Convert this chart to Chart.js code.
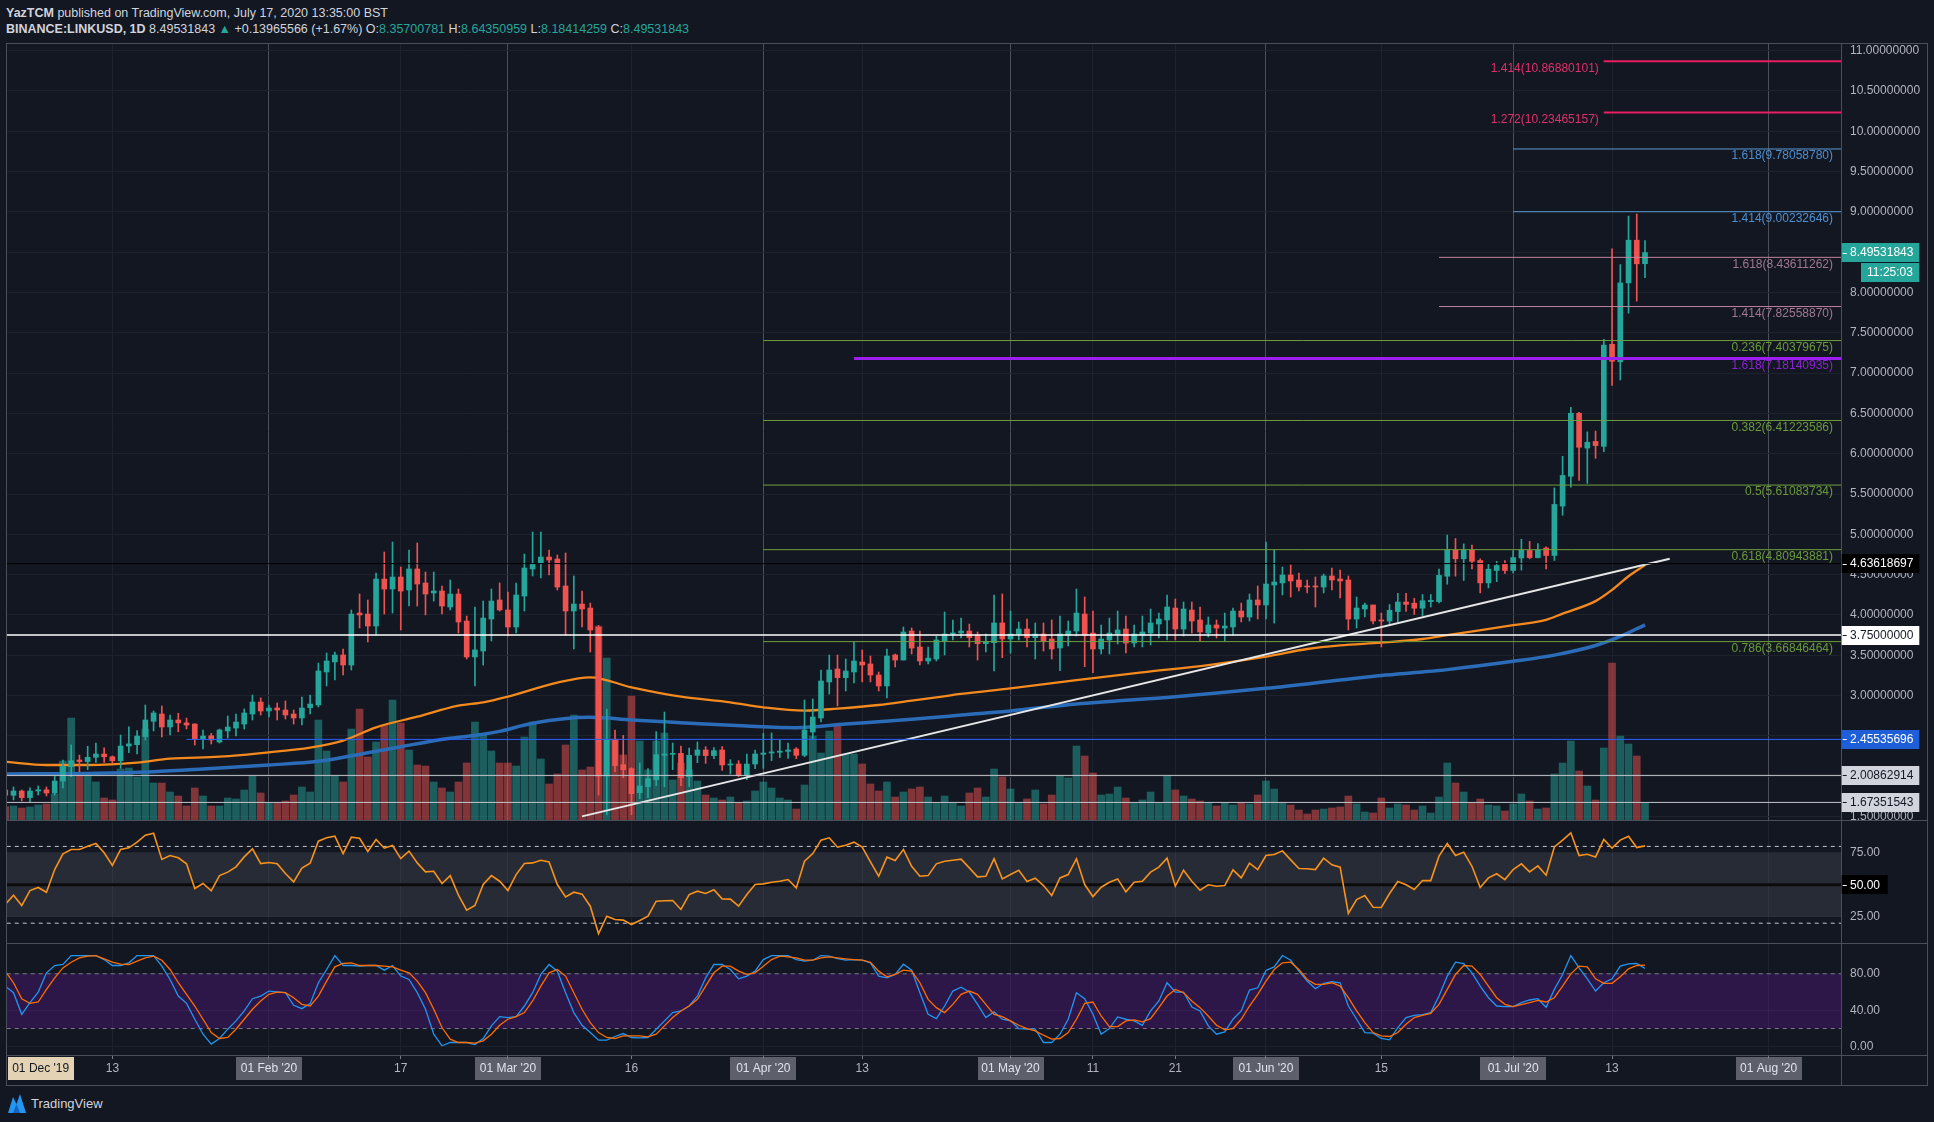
<!DOCTYPE html>
<html>
<head>
<meta charset="utf-8">
<title>LINKUSD 1D</title>
<script src="https://cdn.jsdelivr.net/npm/chart.js@4.4.1/dist/chart.umd.min.js"></script>
<style>
  html, body { margin: 0; padding: 0; background: #131722; }
  body { width: 1934px; height: 1122px; position: relative; overflow: hidden;
         font-family: "Liberation Sans", Arial, sans-serif; color: #d1d4dc; }
  canvas { position: absolute; left: 0; }
  #main { top: 43px; }
  #rsi { top: 820px; }
  #stoch { top: 943px; }
  .hdr { position: absolute; left: 6px; font-size: 12.5px; line-height: 16px; white-space: nowrap; }
  #hdr1 { top: 5px; }
  #hdr2 { top: 21px; }
  .up { color: #26a69a; }
  #frame { position: absolute; left: 6px; top: 43px; width: 1920px; height: 1041px;
           border: 1px solid #4a4e59; pointer-events: none; }
  .sep { position: absolute; left: 6px; width: 1922px; height: 1px; background: #4a4e59; }
  #axisTail { position: absolute; left: 1841px; top: 1055px; width: 1px; height: 31px; background: #4a4e59; }
  #logo { position: absolute; left: 7px; top: 1092px; height: 22px; display: flex; align-items: center;
          font-size: 13px; color: #d1d4dc; }
  #logo svg { margin-right: 4px; }
</style>
</head>
<body>
<div id="hdr1" class="hdr"><b>YazTCM</b> published on TradingView.com, July 17, 2020 13:35:00 BST</div>
<div id="hdr2" class="hdr"></div>

<canvas id="main" width="1934" height="777"></canvas>
<canvas id="rsi" width="1934" height="123"></canvas>
<canvas id="stoch" width="1934" height="142"></canvas>

<div id="frame"></div>
<div class="sep" style="top:820px"></div>
<div class="sep" style="top:943px"></div>
<div class="sep" style="top:1055px"></div>
<div id="axisTail"></div>
<div id="logo"><svg width="20" height="22" viewBox="0 0 20 22"><path d="M1 21 L6 5 L9.5 12 L13 2 L19 21 Z" fill="#2196f3"/><path d="M6 21 L9.5 12 L13 21 Z" fill="#1565c0"/></svg><span>TradingView</span></div>

<script>
// daily candles, Dec 31 2019 (day -1) .. Jul 17 2020 (day 198); day 0 = Jan 1 2020
const firstDay = -1;

const opens = [
  1.828, 1.762, 1.815, 1.733, 1.815, 1.83, 1.79, 1.939, 2.117, 2.20,
  2.18, 2.233, 2.274, 2.24, 2.19, 2.373, 2.39, 2.49, 2.68, 2.77,
  2.61, 2.696, 2.66, 2.646, 2.46, 2.50, 2.423, 2.56, 2.596, 2.646,
  2.77, 2.919, 2.808, 2.845, 2.82, 2.77, 2.721, 2.85, 2.882, 3.292,
  3.416, 3.503, 3.378, 4.023, 4.011, 3.862, 4.445, 4.321, 4.47, 4.309,
  4.57, 4.396, 4.272, 4.297, 4.098, 4.259, 3.924, 3.478, 3.552, 3.949,
  4.185, 4.061, 3.85, 4.234, 4.569, 4.644, 4.718, 4.693, 4.359, 4.048,
  4.135, 4.085, 3.846, 2.0, 2.448, 2.142, 2.092, 1.794, 1.868, 1.956,
  2.258, 2.27, 2.282, 1.993, 2.258, 2.324, 2.254, 2.324, 2.138, 2.15,
  2.005, 2.15, 2.27, 2.286, 2.295, 2.307, 2.336, 2.258, 2.547, 2.721,
  3.168, 3.329, 3.221, 3.292, 3.416, 3.391, 3.254, 3.118, 3.503, 3.44,
  3.80, 3.602, 3.428, 3.453, 3.676, 3.763, 3.776, 3.80, 3.75, 3.643,
  3.655, 3.90, 3.701, 3.763, 3.825, 3.718, 3.763, 3.701, 3.59, 3.75,
  3.80, 4.011, 3.775, 3.577, 3.689, 3.763, 3.825, 3.651, 3.75, 3.775,
  3.887, 3.937, 4.085, 3.825, 4.06, 3.937, 3.775, 3.875, 3.837, 3.85,
  4.048, 3.974, 4.185, 4.123, 4.371, 4.396, 4.495, 4.433, 4.359, 4.359,
  4.346, 4.483, 4.446, 4.433, 3.949, 4.073, 4.123, 3.937, 3.924, 4.042,
  4.16, 4.145, 4.083, 4.165, 4.165, 4.48, 4.804, 4.696, 4.804, 4.675,
  4.397, 4.551, 4.629, 4.551, 4.706, 4.799, 4.711, 4.83, 4.737, 5.35,
  5.72, 6.502, 6.07, 6.152, 6.091, 7.357, 7.141, 8.119, 8.649, 8.35700781
];
const highs = [
  1.85, 1.865, 1.828, 1.853, 1.877, 1.865, 2.001, 2.20, 2.386, 2.26,
  2.37, 2.41, 2.35, 2.25, 2.51, 2.61, 2.564, 2.882, 2.808, 2.87,
  2.758, 2.78, 2.72, 2.65, 2.57, 2.53, 2.584, 2.746, 2.77, 2.833,
  3.006, 2.97, 2.882, 2.907, 2.932, 2.82, 2.98, 3.006, 3.403, 3.527,
  3.54, 3.577, 4.061, 4.259, 4.185, 4.52, 4.78, 4.904, 4.594, 4.805,
  4.892, 4.532, 4.532, 4.359, 4.433, 4.321, 3.986, 4.098, 4.172, 4.321,
  4.396, 4.284, 4.396, 4.755, 5.028, 5.028, 4.805, 4.743, 4.768, 4.483,
  4.297, 4.147, 3.87, 2.83, 2.572, 2.505, 2.105, 2.163, 2.092, 2.551,
  2.795, 2.41, 2.373, 2.348, 2.423, 2.365, 2.353, 2.365, 2.204, 2.192,
  2.274, 2.324, 2.53, 2.535, 2.452, 2.41, 2.353, 2.944, 2.957, 3.316,
  3.502, 3.502, 3.453, 3.664, 3.565, 3.49, 3.292, 3.577, 3.515, 3.85,
  3.838, 3.80, 3.602, 3.738, 4.036, 3.937, 3.961, 3.887, 3.788, 3.763,
  4.247, 4.26, 4.048, 3.912, 3.949, 3.90, 3.90, 3.937, 3.986, 3.924,
  4.321, 4.222, 4.048, 3.875, 3.961, 4.048, 3.986, 3.875, 3.986, 4.073,
  4.023, 4.247, 4.197, 4.16, 4.16, 4.098, 3.974, 3.937, 4.023, 4.085,
  4.147, 4.259, 4.359, 4.905, 4.805, 4.594, 4.619, 4.52, 4.433, 4.47,
  4.507, 4.582, 4.557, 4.483, 4.222, 4.147, 4.123, 4.023, 4.129, 4.268,
  4.268, 4.207, 4.253, 4.253, 4.567, 4.99, 4.948, 4.881, 4.866, 4.696,
  4.629, 4.665, 4.675, 4.799, 4.938, 4.912, 4.886, 4.845, 5.576, 5.967,
  6.575, 6.513, 6.271, 6.281, 7.419, 8.541, 8.346, 8.948, 8.974, 8.64350959
];
const lows = [
  1.72, 1.704, 1.691, 1.679, 1.766, 1.753, 1.766, 1.853, 1.993, 2.055,
  2.08, 2.17, 2.17, 2.16, 2.096, 2.29, 2.274, 2.448, 2.56, 2.485,
  2.51, 2.55, 2.584, 2.386, 2.336, 2.398, 2.41, 2.473, 2.497, 2.584,
  2.696, 2.758, 2.733, 2.696, 2.708, 2.646, 2.634, 2.77, 2.857, 3.118,
  3.192, 3.254, 3.316, 3.838, 3.664, 3.751, 4.011, 4.023, 3.813, 4.11,
  4.11, 4.0, 4.172, 4.011, 4.061, 3.775, 3.453, 3.118, 3.378, 3.676,
  4.048, 3.738, 3.776, 4.048, 4.483, 4.458, 4.495, 4.309, 3.75, 3.577,
  3.85, 3.54, 1.765, 1.52, 2.055, 1.98, 1.521, 1.72, 1.732, 1.881,
  1.868, 2.08, 1.881, 1.868, 2.166, 2.158, 2.216, 2.071, 2.026, 1.993,
  1.956, 2.092, 2.096, 2.192, 2.229, 2.22, 2.216, 2.241, 2.456, 2.671,
  3.018, 2.87, 3.056, 3.155, 3.168, 3.168, 3.056, 2.969, 3.354, 3.44,
  3.515, 3.378, 3.391, 3.428, 3.503, 3.689, 3.713, 3.602, 3.44, 3.54,
  3.304, 3.47, 3.527, 3.689, 3.602, 3.453, 3.552, 3.453, 3.308, 3.614,
  3.738, 3.358, 3.283, 3.515, 3.515, 3.639, 3.527, 3.602, 3.602, 3.627,
  3.713, 3.689, 3.689, 3.738, 3.775, 3.676, 3.726, 3.713, 3.676, 3.75,
  3.912, 3.924, 3.949, 3.949, 3.899, 4.247, 4.222, 4.297, 4.272, 4.098,
  4.272, 4.309, 4.21, 3.813, 3.837, 3.974, 3.887, 3.602, 3.888, 3.913,
  4.042, 4.006, 3.99, 4.098, 4.15, 4.381, 4.48, 4.428, 4.572, 4.273,
  4.335, 4.412, 4.515, 4.52, 4.556, 4.696, 4.706, 4.572, 4.675, 5.236,
  5.586, 5.669, 5.632, 5.942, 6.024, 6.848, 6.915, 7.743, 7.893, 8.18414259
];
const closes = [
  1.762, 1.815, 1.733, 1.815, 1.83, 1.79, 1.939, 2.117, 2.191, 2.18,
  2.233, 2.274, 2.24, 2.19, 2.373, 2.40, 2.497, 2.696, 2.783, 2.609,
  2.696, 2.66, 2.634, 2.46, 2.497, 2.448, 2.572, 2.609, 2.671, 2.783,
  2.919, 2.808, 2.845, 2.82, 2.758, 2.721, 2.845, 2.894, 3.304, 3.428,
  3.503, 3.378, 4.011, 3.999, 3.862, 4.445, 4.321, 4.47, 4.296, 4.57,
  4.383, 4.259, 4.297, 4.11, 4.259, 3.912, 3.478, 3.565, 3.961, 4.172,
  4.061, 3.85, 4.247, 4.582, 4.632, 4.718, 4.681, 4.346, 4.048, 4.135,
  4.073, 3.813, 2.0, 2.448, 2.13, 2.08, 1.782, 1.877, 1.968, 2.266,
  2.274, 2.28, 1.98, 2.258, 2.324, 2.254, 2.316, 2.138, 2.15, 2.005,
  2.15, 2.274, 2.286, 2.30, 2.31, 2.324, 2.258, 2.572, 2.733, 3.18,
  3.316, 3.221, 3.304, 3.428, 3.378, 3.254, 3.118, 3.49, 3.44, 3.788,
  3.589, 3.428, 3.465, 3.689, 3.763, 3.776, 3.80, 3.718, 3.643, 3.668,
  3.90, 3.701, 3.763, 3.825, 3.718, 3.763, 3.676, 3.577, 3.763, 3.80,
  4.023, 3.75, 3.577, 3.701, 3.775, 3.813, 3.651, 3.763, 3.788, 3.90,
  3.949, 4.098, 3.825, 4.073, 3.924, 3.788, 3.875, 3.837, 3.862, 4.048,
  3.974, 4.185, 4.123, 4.383, 4.408, 4.495, 4.421, 4.346, 4.346, 4.346,
  4.483, 4.433, 4.421, 3.949, 4.085, 4.123, 3.924, 3.924, 4.057, 4.16,
  4.13, 4.083, 4.176, 4.181, 4.49, 4.804, 4.696, 4.804, 4.665, 4.397,
  4.567, 4.613, 4.551, 4.711, 4.804, 4.711, 4.804, 4.737, 5.37, 5.73,
  6.502, 6.08, 6.142, 6.101, 7.347, 7.146, 8.119, 8.649, 8.35566277, 8.49531843
];
// volume, millions of LINK
const volumes = [
  1.33, 1.4, 1.2, 1.3, 1.5, 1.6, 2.6, 5.9, 10.2, 4.7,
  4.5, 3.8, 2.2, 2.0, 5.1, 5.2, 4.3, 9.1, 3.7, 3.7,
  2.8, 2.4, 1.4, 3.2, 2.4, 1.4, 1.4, 2.2, 2.1, 3.0,
  4.4, 2.7, 1.7, 1.7, 1.9, 2.5, 3.3, 2.8, 10.0, 6.9,
  4.4, 3.8, 9.1, 11.1, 6.3, 7.8, 9.5, 12.0, 9.7, 7.0,
  5.5, 5.4, 3.8, 3.2, 2.8, 3.8, 5.7, 9.8, 8.5, 6.9,
  5.7, 5.7, 5.4, 8.3, 9.8, 6.1, 3.6, 4.6, 7.5, 10.5,
  5.0, 5.3, 19.4, 16.2, 8.1, 6.5, 12.4, 7.9, 5.0, 7.9,
  8.7, 4.0, 5.7, 5.0, 3.9, 2.5, 2.2, 2.0, 2.3, 1.7,
  1.9, 2.9, 3.8, 3.2, 2.2, 2.0, 1.1, 3.5, 8.4, 6.7,
  8.9, 9.4, 6.6, 6.6, 5.6, 3.6, 2.9, 3.8, 2.3, 2.8,
  3.1, 3.3, 2.3, 1.7, 2.4, 1.7, 1.4, 2.7, 3.2, 2.3,
  5.1, 4.3, 3.1, 1.7, 2.1, 3.0, 1.6, 2.5, 4.4, 4.2,
  7.4, 6.4, 4.7, 2.5, 2.6, 3.3, 2.2, 1.7, 2.0, 2.8,
  1.7, 4.4, 3.0, 2.4, 2.1, 1.9, 1.7, 1.4, 1.7, 1.5,
  1.7, 1.6, 2.5, 3.9, 3.1, 1.7, 1.5, 1.0, 0.6, 1.0,
  1.1, 1.2, 1.3, 2.4, 1.6, 0.8, 0.7, 2.2, 1.2, 1.6,
  1.5, 1.0, 1.4, 0.7, 2.3, 5.7, 3.7, 2.8, 1.7, 2.1,
  1.5, 1.4, 0.9, 1.6, 2.6, 1.9, 1.1, 1.2, 4.6, 5.7,
  7.9, 4.9, 3.4, 2.0, 7.2, 15.7, 8.4, 7.6, 6.4, 1.7
];
const rsi = [
  34.6, 41.9, 33.8, 45.5, 47.9, 44.2, 61.9, 74.2, 77.6, 77.6,
  80.2, 82.3, 75.0, 65.1, 77.6, 78.9, 83.3, 88.8, 90.3, 69.8,
  72.9, 71.1, 66.4, 47.1, 51.0, 45.3, 57.2, 59.9, 64.0, 71.8,
  78.1, 66.6, 67.4, 66.4, 58.8, 52.3, 63.0, 66.9, 84.1, 86.7,
  88.0, 74.4, 87.2, 86.4, 76.0, 85.4, 78.6, 80.7, 70.5, 76.3,
  67.1, 60.1, 60.6, 51.0, 57.2, 41.9, 30.2, 33.8, 50.2, 57.2,
  52.8, 45.5, 58.0, 66.6, 67.1, 69.2, 67.9, 50.2, 40.6, 44.2,
  42.7, 33.3, 11.7, 25.5, 22.9, 22.4, 19.0, 22.1, 25.5, 37.2,
  37.5, 37.7, 30.7, 42.4, 45.0, 43.2, 46.1, 39.0, 38.8, 33.3,
  42.4, 50.2, 50.7, 52.0, 52.8, 54.1, 47.6, 68.4, 74.4, 84.9,
  86.7, 79.4, 80.9, 83.3, 79.4, 67.9, 56.7, 71.6, 69.0, 77.6,
  64.5, 56.7, 57.2, 66.4, 68.4, 69.2, 70.0, 63.2, 56.2, 56.7,
  70.3, 54.6, 58.0, 61.4, 52.6, 55.2, 49.4, 41.6, 55.4, 58.0,
  70.3, 50.2, 40.8, 48.1, 52.0, 54.6, 44.5, 52.0, 52.8, 59.9,
  63.8, 70.8, 48.9, 61.4, 52.8, 45.8, 50.0, 48.9, 49.4, 61.7,
  55.4, 66.9, 61.9, 72.9, 73.7, 76.5, 69.5, 62.7, 62.5, 61.9,
  70.8, 65.6, 63.8, 27.6, 38.5, 41.6, 32.5, 32.3, 43.2, 52.6,
  50.0, 46.3, 53.3, 53.3, 72.4, 82.3, 72.9, 75.5, 64.5, 47.9,
  55.4, 58.6, 54.1, 61.9, 66.4, 60.1, 64.8, 57.5, 79.6, 84.9,
  90.6, 72.9, 73.9, 71.8, 85.4, 78.6, 84.9, 88.0, 79.1, 80.4
];
const stochK = [
  66.5, 59.3, 35.6, 48.4, 60.0, 81.1, 89.1, 90.2, 100, 100,
  100, 100, 95.6, 89.1, 89.1, 92.0, 100, 100, 100, 88.4,
  73.8, 55.6, 47.6, 30.2, 13.8, 2.9, 9.1, 19.3, 28.4, 39.3,
  52.7, 55.6, 61.1, 60.3, 59.3, 45.5, 41.8, 47.3, 70.2, 84.7,
  100, 89.1, 89.1, 88.4, 89.1, 89.1, 84.0, 89.1, 77.5, 73.8,
  59.3, 41.1, 13.8, 1.1, 4.7, 4.7, 4.7, 2.5, 9.1, 22.9,
  33.1, 32.0, 33.1, 44.7, 59.3, 79.3, 90.2, 82.9, 59.3, 37.5,
  23.6, 15.6, 7.3, 7.3, 11.3, 14.5, 10.2, 9.8, 10.2, 19.3,
  28.4, 37.5, 39.3, 44.7, 55.6, 75.6, 90.2, 90.2, 84.7, 74.5,
  77.5, 82.9, 95.6, 100, 100, 100, 95.6, 93.8, 94.9, 100,
  99.3, 96.7, 94.9, 95.6, 94.9, 92.0, 77.5, 75.6, 79.3, 90.5,
  84.0, 59.3, 35.6, 30.9, 44.7, 61.1, 65.4, 60.0, 46.5, 32.0,
  38.2, 30.2, 28.4, 20.0, 19.3, 19.3, 4.7, 4.7, 13.8, 30.2,
  59.3, 52.7, 35.6, 13.8, 20.0, 32.7, 30.2, 28.4, 23.6, 39.3,
  50.2, 70.2, 60.0, 60.0, 43.6, 39.3, 22.9, 13.8, 16.4, 30.2,
  39.3, 62.2, 64.7, 83.6, 87.6, 100, 94.9, 82.9, 72.0, 63.6,
  69.4, 71.3, 70.2, 44.7, 30.2, 15.6, 14.9, 9.1, 7.6, 21.1,
  32.0, 34.5, 35.3, 37.5, 55.6, 77.5, 92.7, 91.3, 81.1, 66.5,
  53.8, 44.7, 44.0, 44.0, 48.4, 51.3, 52.7, 43.3, 62.9, 79.3,
  100, 86.5, 74.5, 61.1, 70.2, 74.5, 88.4, 90.9, 91.3, 85.8
];
const stochD = [
  82.9, 70.2, 52.7, 47.6, 49.1, 62.9, 75.6, 86.5, 92.7, 97.4,
  99.3, 100, 96.4, 92.7, 90.5, 90.2, 93.8, 97.4, 99.3, 94.9,
  84.7, 70.2, 57.5, 44.7, 30.2, 15.6, 9.1, 10.2, 19.3, 30.2,
  41.1, 50.2, 57.5, 60.0, 59.3, 53.8, 46.5, 44.7, 55.6, 72.0,
  87.6, 91.3, 92.0, 89.1, 89.1, 89.1, 88.4, 87.6, 84.0, 81.1,
  72.0, 59.3, 41.1, 21.1, 8.4, 4.7, 4.7, 4.0, 6.5, 13.8,
  23.6, 30.2, 33.1, 37.5, 50.2, 66.5, 81.1, 84.7, 77.5, 59.3,
  41.1, 26.5, 15.6, 10.2, 9.1, 12.0, 12.0, 12.0, 10.9, 13.8,
  22.9, 32.0, 39.3, 44.7, 52.0, 66.5, 81.1, 88.4, 88.4, 82.9,
  79.3, 81.1, 88.4, 95.6, 99.3, 98.5, 97.4, 94.9, 94.9, 97.4,
  98.5, 97.4, 96.4, 95.6, 94.9, 92.7, 82.9, 76.7, 79.3, 84.0,
  82.9, 70.2, 52.0, 42.9, 37.5, 46.5, 57.5, 61.1, 57.5, 46.5,
  35.6, 33.1, 28.4, 23.6, 20.0, 17.5, 12.7, 8.4, 9.1, 15.6,
  30.2, 47.6, 49.1, 33.8, 22.2, 22.2, 28.4, 29.5, 27.3, 30.9,
  42.9, 55.6, 62.9, 59.3, 50.2, 42.9, 33.8, 23.6, 18.5, 20.0,
  30.2, 44.7, 57.5, 72.0, 84.7, 92.0, 92.7, 84.7, 73.8, 68.4,
  68.4, 70.2, 66.5, 53.8, 39.3, 26.5, 15.6, 12.0, 11.3, 15.6,
  24.7, 32.0, 34.5, 36.7, 46.5, 62.9, 79.3, 89.1, 88.4, 79.3,
  66.5, 53.8, 46.5, 44.0, 46.2, 48.4, 50.9, 49.1, 53.8, 66.5,
  80.0, 88.4, 87.6, 74.5, 69.5, 69.5, 76.7, 85.5, 89.1, 89.5
];

// moving averages, sampled along the drawn lines
const maFastDays = [-1, 4, 9, 15, 19, 25, 31, 36, 40, 44, 49, 54, 57, 60, 66, 70, 75, 81, 87, 91,
  96, 100, 105, 109, 112, 115, 121, 129, 137, 145, 152, 157, 161, 166, 171, 174, 182, 186, 188, 192, 194, 196, 198];
const maFastVals = [2.179, 2.138, 2.138, 2.167, 2.216, 2.241, 2.295, 2.353, 2.44, 2.605, 2.737, 2.874, 2.915, 2.985,
  3.159, 3.225, 3.101, 2.985, 2.915, 2.853, 2.812, 2.837, 2.882, 2.936, 2.977, 3.019, 3.089, 3.192, 3.287, 3.378,
  3.482, 3.577, 3.622, 3.656, 3.701, 3.749, 3.872, 3.939, 4.016, 4.171, 4.31, 4.48, 4.618];
const maSlowDays = [-1, 10, 17, 23, 31, 37, 43, 47, 53, 57, 59, 63, 70, 75, 81, 89, 95, 101, 109, 112, 115,
  121, 129, 141, 152, 161, 166, 171, 174, 182, 187, 192, 195, 198];
const maSlowVals = [2.026, 2.034, 2.055, 2.088, 2.138, 2.183, 2.29, 2.365, 2.469, 2.518, 2.555, 2.655, 2.729, 2.696,
  2.663, 2.621, 2.601, 2.646, 2.704, 2.729, 2.758, 2.808, 2.895, 2.985, 3.089, 3.192, 3.249, 3.292, 3.321, 3.424,
  3.501, 3.62, 3.733, 3.877];

// drawings
const trendDays = [69, 201];
const trendVals = [1.5, 4.696];
const fibRatios = ['1.414', '1.272', '1.618', '1.414', '1.618', '1.414', '0.236', '1.618', '0.382', '0.5', '0.618', '0.786'];
const fibPrices = [10.86880101, 10.23465157, 9.78058780, 9.00232646, 8.43611262, 7.82558870,
  7.40379675, 7.18140935, 6.41223586, 5.61083734, 4.80943881, 3.66846464];
const fibStartDays = [193, 193, 182, 182, 173, 173, 91, 102, 91, 91, 91, 91];
const fibGroups = ['ext2', 'ext2', 'ext1', 'ext1', 'ext0', 'ext0', 'retr', 'ext3', 'retr', 'retr', 'retr', 'retr'];
const markPrices = [4.63618697, 3.75, 2.45535696, 2.00862914, 1.67351543];
const markStartDays = [-1, -1, 21, -1, -1];
const countdown = '11:25:03';

// axes
const priceTicks = [1.5, 2, 2.5, 3, 3.5, 4, 4.5, 5, 5.5, 6, 6.5, 7, 7.5, 8, 8.5, 9, 9.5, 10, 10.5, 11];
const rsiTicks = [25, 50, 75];
const rsiLevels = [80, 50, 20];
const rsiBand = [75, 25];
const stochTicks = [0, 40, 80];
const stochLevels = [80, 20];
const timeTickDays = [3.3, 12, 31, 47, 60, 75, 91, 103, 121, 131, 141, 152, 166, 182, 194, 213];
const timeTickLabels = ["01 Dec '19", '13', "01 Feb '20", '17', "01 Mar '20", '16', "01 Apr '20", '13',
  "01 May '20", '11', '21', "01 Jun '20", '15', "01 Jul '20", '13', "01 Aug '20"];

// ---------------------------------------------------------------
const FONT = '"Liberation Sans", Arial, sans-serif';
Chart.defaults.font.family = FONT;
Chart.defaults.font.size = 12;
Chart.defaults.color = '#b2b5be';

const dayMin = -0.79, dayMax = 221.79;
const axisW = 93;
const UP = '#26a69a', DOWN = '#ef5350';

const fibStyle = {
  ext2: { line: '#e91e63', text: '#e0306a', width: 2, labelLeft: true },
  ext1: { line: '#5b9bd5', text: '#4f8fd0', width: 1 },
  ext0: { line: '#c4829f', text: '#a07890', width: 1 },
  retr: { line: '#6f9e3d', text: '#6b9a3b', width: 1 },
  ext3: { line: '#9c1ef0', text: '#8b22cf', width: 3 }
};
const markStyle = [
  { line: '#000000', width: 1, bg: '#000000', fg: '#ffffff' },
  { line: '#ffffff', width: 1.5, bg: '#ffffff', fg: '#131722' },
  { line: '#2962ff', width: 1, bg: '#1e5fd9', fg: '#ffffff' },
  { line: '#c3c5cb', width: 1, bg: '#d1d4dc', fg: '#131722' },
  { line: '#c3c5cb', width: 1, bg: '#d1d4dc', fg: '#131722' }
];

const dayOf = i => firstDay + i;
const isUp = closes.map((c, i) => c >= opens[i]);
const candleColors = isUp.map(u => u ? UP : DOWN);
const volColors = isUp.map(u => u ? 'rgba(38,166,154,0.5)' : 'rgba(239,83,80,0.5)');
const isBoxed = i => timeTickLabels[i].indexOf("'") >= 0;

const hLine = (y, from, color, width, dash) => ({
  type: 'line', data: [{ x: from, y: y }, { x: dayMax + 1, y: y }],
  borderColor: color, borderWidth: width, borderDash: dash || [], pointRadius: 0, fill: false, order: 0
});

const noPad = a => { a.paddingTop = 0; a.paddingBottom = 0; a.paddingLeft = 0; a.paddingRight = 0; };

const xAxisHidden = (gridColor) => ({
  type: 'linear', min: dayMin, max: dayMax, offset: false,
  afterBuildTicks: a => { a.ticks = timeTickDays.map(v => ({ value: v })); },
  afterFit: a => { a.height = 0; noPad(a); },
  ticks: { display: false },
  border: { display: false },
  grid: { offset: false, drawTicks: false, color: gridColor }
});

const yAxisRight = (min, max, ticks, digits) => ({
  type: 'linear', position: 'right', min: min, max: max,
  afterBuildTicks: a => { a.ticks = ticks.map(v => ({ value: v })); },
  afterFit: a => { a.width = axisW; noPad(a); },
  ticks: { padding: 9, color: '#b2b5be', autoSkip: false, callback: v => Number(v).toFixed(digits) },
  border: { display: true, color: '#4a4e59' },
  grid: { drawTicks: false, color: '#1e222d' }
});

const baseOptions = {
  responsive: false, maintainAspectRatio: false, animation: false, events: [],
  layout: { padding: { left: 7, right: 0, top: 0, bottom: 0 }, autoPadding: false },
  plugins: { legend: { display: false }, tooltip: { enabled: false } }
};

// keep a scale mapping two reference values onto their pixel rows/columns
function pinScale(chart, id, v1, px1, v2, px2) {
  const a = chart.chartArea;
  const k = (px2 - px1) / (v2 - v1);
  const s = chart.options.scales[id];
  const lo = id === 'x' ? a.left : a.bottom;
  const hi = id === 'x' ? a.right : a.top;
  s.min = v1 + (lo - px1) / k;
  s.max = v1 + (hi - px1) / k;
}

function drawTag(ctx, area, yc, bg, fg, text, right) {
  const x0 = area.right + 0.7;
  ctx.fillStyle = bg;
  ctx.fillRect(x0, Math.round(yc - 9.5), right - x0, 19);
  ctx.fillStyle = fg;
  ctx.fillRect(x0 + 1, Math.round(yc), 4, 1);
  ctx.textAlign = 'left';
  ctx.textBaseline = 'middle';
  ctx.fillText(text, 1850, yc + 0.5);
}

// ---------------- main pane ----------------
const mainSets = [];
mainSets.push({
  type: 'bar', label: 'Volume', yAxisID: 'vol',
  data: volumes.map((v, i) => ({ x: dayOf(i), y: v })),
  backgroundColor: volColors, barThickness: 7, grouped: false, borderWidth: 0, order: 10
});
mainSets.push({
  type: 'line', label: 'MA slow',
  data: maSlowDays.map((d, i) => ({ x: d, y: maSlowVals[i] })),
  borderColor: '#2b6cb8', borderWidth: 3.5, pointRadius: 0, cubicInterpolationMode: 'monotone', fill: false, order: 6
});
mainSets.push({
  type: 'line', label: 'MA fast',
  data: maFastDays.map((d, i) => ({ x: d, y: maFastVals[i] })),
  borderColor: '#f4891e', borderWidth: 2.3, pointRadius: 0, cubicInterpolationMode: 'monotone', fill: false, order: 5
});
mainSets.push({
  type: 'bar', label: 'Wicks',
  data: lows.map((l, i) => ({ x: dayOf(i), y: [l, highs[i]] })),
  backgroundColor: candleColors, barThickness: 1, grouped: false, borderWidth: 0, order: 2
});
mainSets.push({
  type: 'bar', label: 'Bodies',
  data: opens.map((o, i) => ({ x: dayOf(i), y: [o, closes[i]] })),
  backgroundColor: candleColors, barThickness: 5, minBarLength: 1, grouped: false, borderWidth: 0, order: 1
});
fibPrices.forEach((p, i) => {
  const st = fibStyle[fibGroups[i]];
  mainSets.push(hLine(p, fibStartDays[i], st.line, st.width));
});
markPrices.forEach((p, i) => {
  mainSets.push(hLine(p, markStartDays[i], markStyle[i].line, markStyle[i].width));
});
mainSets.push({
  type: 'line', label: 'Trend',
  data: trendDays.map((d, i) => ({ x: d, y: trendVals[i] })),
  borderColor: '#e6e6e6', borderWidth: 2, pointRadius: 0, fill: false, order: 0
});

const mainLabels = {
  id: 'mainLabels',
  afterDatasetsDraw(chart) {
    const { ctx, chartArea, scales: { x, y } } = chart;
    ctx.save();
    ctx.font = '12px ' + FONT;
    ctx.textBaseline = 'middle';
    ctx.textAlign = 'right';
    fibPrices.forEach((p, i) => {
      const st = fibStyle[fibGroups[i]];
      const py = y.getPixelForValue(p);
      const text = fibRatios[i] + '(' + p.toFixed(8) + ')';
      ctx.fillStyle = st.text;
      if (st.labelLeft) ctx.fillText(text, x.getPixelForValue(fibStartDays[i]) - 5, py + 7);
      else ctx.fillText(text, chartArea.right - 8, py + 7);
    });
    ctx.restore();
  },
  afterDraw(chart) {
    const { ctx, chartArea, scales: { y } } = chart;
    ctx.save();
    ctx.font = '12px ' + FONT;
    markPrices.forEach((p, i) => {
      drawTag(ctx, chartArea, y.getPixelForValue(p), markStyle[i].bg, markStyle[i].fg, p.toFixed(8), 1919.3);
    });
    const last = closes.length - 1;
    const ly = y.getPixelForValue(closes[last]);
    drawTag(ctx, chartArea, ly, UP, '#ffffff', closes[last].toFixed(8), 1919.3);
    ctx.fillStyle = UP;
    ctx.fillRect(1861, Math.round(ly + 10), 58.3, 19);
    ctx.fillStyle = '#ffffff';
    ctx.textAlign = 'center';
    ctx.fillText(countdown, 1890, Math.round(ly + 10) + 10);
    ctx.restore();
  }
};

const mainChart = new Chart(document.getElementById('main'), {
  type: 'bar',
  data: { datasets: mainSets },
  options: Object.assign({}, baseOptions, {
    scales: {
      x: xAxisHidden(c => c.index === 0 ? 'rgba(0,0,0,0)' : (isBoxed(c.index) ? '#4c4f5a' : '#1e222d')),
      y: yAxisRight(1.4555, 11.0955, priceTicks, 8),
      vol: { type: 'linear', display: false, min: 0, max: 77.7 }
    }
  }),
  plugins: [mainLabels]
});

// ---------------- RSI pane ----------------
const flat = v => [{ x: dayMin - 1, y: v }, { x: dayMax + 1, y: v }];
const rsiTag = {
  id: 'rsiTag',
  afterDraw(chart) {
    const { ctx, chartArea, scales: { y } } = chart;
    ctx.save();
    ctx.font = '12px ' + FONT;
    drawTag(ctx, chartArea, y.getPixelForValue(rsiLevels[1]), '#000000', '#ffffff', rsiLevels[1].toFixed(2), 1887.7);
    ctx.restore();
  }
};
const rsiChart = new Chart(document.getElementById('rsi'), {
  type: 'line',
  data: {
    datasets: [
      { data: flat(rsiBand[0]), fill: { value: rsiBand[1] }, backgroundColor: 'rgba(255,255,255,0.085)', borderWidth: 0, pointRadius: 0, order: 5 },
      { data: flat(rsiLevels[0]), borderColor: '#c3c5cb', borderDash: [4, 4], borderWidth: 1, pointRadius: 0, fill: false, order: 4 },
      { data: flat(rsiLevels[2]), borderColor: '#c3c5cb', borderDash: [4, 4], borderWidth: 1, pointRadius: 0, fill: false, order: 4 },
      { data: flat(rsiLevels[1]), borderColor: '#0c0c0c', borderWidth: 3, pointRadius: 0, fill: false, order: 3 },
      { data: rsi.map((v, i) => ({ x: dayOf(i), y: v })), borderColor: '#f7921c', borderWidth: 1.6, pointRadius: 0, fill: false, order: 1 }
    ]
  },
  options: Object.assign({}, baseOptions, {
    scales: {
      x: xAxisHidden(c => c.index === 0 ? 'rgba(0,0,0,0)' : '#1e222d'),
      y: yAxisRight(4.5, 100.6, rsiTicks, 2)
    }
  }),
  plugins: [rsiTag]
});

// ---------------- Stoch RSI pane + time axis ----------------
const timeBoxes = {
  id: 'timeBoxes',
  beforeDraw(chart) {
    const { ctx, chartArea, scales: { x } } = chart;
    ctx.save();
    timeTickDays.forEach((d, i) => {
      if (!isBoxed(i)) return;
      const cx = x.getPixelForValue(d);
      ctx.fillStyle = i === 0 ? '#e3d3b4' : '#5d606b';
      ctx.fillRect(Math.round(cx - 33), chartArea.bottom + 2, 66, 23);
    });
    ctx.restore();
  }
};
const stochChart = new Chart(document.getElementById('stoch'), {
  type: 'line',
  data: {
    datasets: [
      { data: flat(stochLevels[0]), fill: { value: stochLevels[1] }, backgroundColor: 'rgba(149,25,225,0.2)',
        borderColor: '#787b86', borderDash: [4, 4], borderWidth: 1, pointRadius: 0, order: 5 },
      { data: flat(stochLevels[1]), borderColor: '#787b86', borderDash: [4, 4], borderWidth: 1, pointRadius: 0, fill: false, order: 4 },
      { data: stochK.map((v, i) => ({ x: dayOf(i), y: v })), borderColor: '#2196f3', borderWidth: 1.3, pointRadius: 0, fill: false, order: 2 },
      { data: stochD.map((v, i) => ({ x: dayOf(i), y: v })), borderColor: '#ff6d00', borderWidth: 1.3, pointRadius: 0, fill: false, order: 1 }
    ]
  },
  options: Object.assign({}, baseOptions, {
    scales: {
      x: {
        type: 'linear', min: dayMin, max: dayMax, offset: false, position: 'bottom',
        afterBuildTicks: a => { a.ticks = timeTickDays.map(v => ({ value: v })); },
        afterFit: a => { a.height = 30; noPad(a); },
        ticks: {
          autoSkip: false, maxRotation: 0, padding: 2,
          callback: (v, i) => timeTickLabels[i],
          color: c => c.index === 0 ? '#131722' : (isBoxed(c.index) ? '#e0e3eb' : '#b2b5be')
        },
        border: { display: false },
        grid: {
          offset: false, drawTicks: true, tickLength: 4,
          color: c => c.index === 0 ? 'rgba(0,0,0,0)' : '#1e222d',
          tickColor: c => c.index === 0 ? 'rgba(0,0,0,0)' : '#787b86'
        }
      },
      y: yAxisRight(-8.8, 113.8, stochTicks, 2)
    }
  }),
  plugins: [timeBoxes]
});

// lock every pane to the reference pixel grid (canvas-local coordinates)
pinScale(mainChart, 'y', 11, 7.7, 1.5, 773.4);
pinScale(rsiChart, 'y', 75, 32.8, 25, 96.8);
pinScale(stochChart, 'y', 80, 30.8, 0, 103.8);
[mainChart, rsiChart, stochChart].forEach(c => { pinScale(c, 'x', 0, 13.5, 213, 1768.6); c.update(); });

// ---------------- header ----------------
(function () {
  const n = closes.length - 1;
  const chg = closes[n] - closes[n - 1];
  const pct = chg / closes[n - 1] * 100;
  document.getElementById('hdr2').innerHTML =
    '<b>BINANCE:LINKUSD, 1D</b> ' + closes[n].toFixed(8) +
    ' <span class="up">&#9650;</span> +' + chg.toFixed(8) + ' (+' + pct.toFixed(2) + '%)' +
    ' O:<span class="up">' + opens[n].toFixed(8) + '</span>' +
    ' H:<span class="up">' + highs[n].toFixed(8) + '</span>' +
    ' L:<span class="up">' + lows[n].toFixed(8) + '</span>' +
    ' C:<span class="up">' + closes[n].toFixed(8) + '</span>';
})();
</script>
</body>
</html>
